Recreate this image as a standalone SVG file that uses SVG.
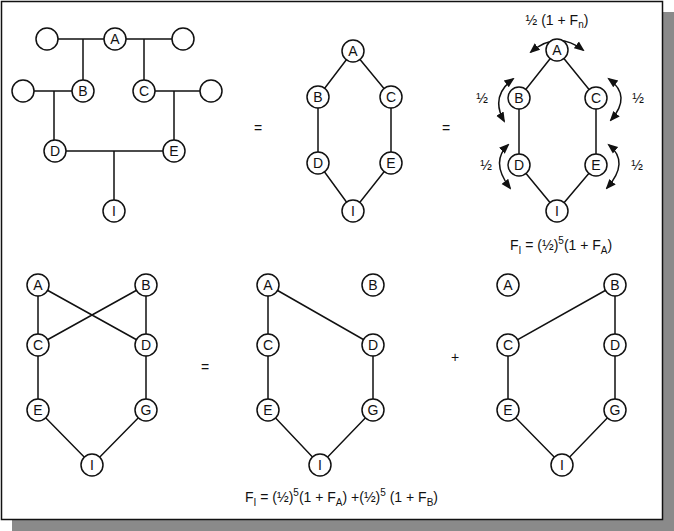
<svg xmlns="http://www.w3.org/2000/svg" width="674" height="531" viewBox="0 0 674 531">
<style>
.n{fill:#fff;stroke:#111;stroke-width:1.5}
.l{stroke:#111;stroke-width:1.5;fill:none}
text{font-family:"Liberation Sans",Arial,sans-serif;font-size:14px;fill:#111}
.c{text-anchor:middle;dominant-baseline:central}
.a{stroke:#111;stroke-width:1.5;fill:none;marker-start:url(#h);marker-end:url(#h)}
</style>
<defs>
<marker id="h" viewBox="0 0 10 10" refX="8" refY="5" markerWidth="7" markerHeight="7" orient="auto-start-reverse"><path d="M0,1 L10,5 L0,9 z" fill="#111"/></marker>
<g id="nd"><circle class="n" r="11"/></g>
</defs>
<rect x="0" y="0" width="674" height="531" fill="#fff"/>
<rect x="12" y="12" width="662" height="519" fill="#8a8a8a"/>
<rect x="1.5" y="1.5" width="661" height="518" fill="#fff" stroke="#111" stroke-width="1.5"/>
<g id="connectors">
<path class="l" d="M58,39H172M83,39V80M144,39V80M34,91H72M54,91V140M155,91H200M174,91V140M66,151H163M114,151V200"/>
<path class="l" d="M353,51L318,97L318,163L353,211L391,163L391,97Z"/>
<path class="l" d="M557,50L519,98L519,165L557,211L596,165L596,98Z"/>
<path class="l" d="M38,285V345V410L92,465L146,410V345V285M38,285L146,345M146,285L38,345"/>
<path class="l" d="M268,285V345V410L320,465L373,410V345L268,285"/>
<path class="l" d="M615,285V345V410L562,465L508,410V345L615,285"/>
<path class="a" d="M531,52Q557,30 583,50"/>
<path class="a" d="M513,79Q490,96 504,121"/>
<path class="a" d="M609,79Q632,96 611,120"/>
<path class="a" d="M508,145Q490,162 510,188"/>
<path class="a" d="M609,145Q630,162 607,188"/>
</g>
<g id="nodes">
<g id="t1"><use href="#nd" x="47" y="39"/><use href="#nd" x="183" y="39"/><use href="#nd" x="23" y="91"/><use href="#nd" x="211" y="91"/>
<use href="#nd" x="115" y="39"/><text class="c" x="115" y="39">A</text>
<use href="#nd" x="83" y="91"/><text class="c" x="83" y="91">B</text>
<use href="#nd" x="144" y="91"/><text class="c" x="144" y="91">C</text>
<use href="#nd" x="55" y="151"/><text class="c" x="55" y="151">D</text>
<use href="#nd" x="174" y="151"/><text class="c" x="174" y="151">E</text>
<use href="#nd" x="114" y="211"/><text class="c" x="114" y="211">I</text></g>
<g id="t2">
<use href="#nd" x="353" y="51"/><text class="c" x="353" y="51">A</text>
<use href="#nd" x="318" y="97"/><text class="c" x="318" y="97">B</text>
<use href="#nd" x="391" y="97"/><text class="c" x="391" y="97">C</text>
<use href="#nd" x="318" y="163"/><text class="c" x="318" y="163">D</text>
<use href="#nd" x="391" y="163"/><text class="c" x="391" y="163">E</text>
<use href="#nd" x="353" y="211"/><text class="c" x="353" y="211">I</text></g>
<g id="t3">
<use href="#nd" x="557" y="50"/><text class="c" x="557" y="50">A</text>
<use href="#nd" x="519" y="98"/><text class="c" x="519" y="98">B</text>
<use href="#nd" x="596" y="98"/><text class="c" x="596" y="98">C</text>
<use href="#nd" x="519" y="165"/><text class="c" x="519" y="165">D</text>
<use href="#nd" x="596" y="165"/><text class="c" x="596" y="165">E</text>
<use href="#nd" x="557" y="211"/><text class="c" x="557" y="211">I</text></g>
<g id="b1">
<use href="#nd" x="38" y="285"/><text class="c" x="38" y="285">A</text>
<use href="#nd" x="146" y="285"/><text class="c" x="146" y="285">B</text>
<use href="#nd" x="38" y="345"/><text class="c" x="38" y="345">C</text>
<use href="#nd" x="146" y="345"/><text class="c" x="146" y="345">D</text>
<use href="#nd" x="38" y="410"/><text class="c" x="38" y="410">E</text>
<use href="#nd" x="146" y="410"/><text class="c" x="146" y="410">G</text>
<use href="#nd" x="92" y="465"/><text class="c" x="92" y="465">I</text></g>
<g id="b2">
<use href="#nd" x="268" y="285"/><text class="c" x="268" y="285">A</text>
<use href="#nd" x="373" y="285"/><text class="c" x="373" y="285">B</text>
<use href="#nd" x="268" y="345"/><text class="c" x="268" y="345">C</text>
<use href="#nd" x="373" y="345"/><text class="c" x="373" y="345">D</text>
<use href="#nd" x="268" y="410"/><text class="c" x="268" y="410">E</text>
<use href="#nd" x="373" y="410"/><text class="c" x="373" y="410">G</text>
<use href="#nd" x="320" y="465"/><text class="c" x="320" y="465">I</text></g>
<g id="b3">
<use href="#nd" x="508" y="285"/><text class="c" x="508" y="285">A</text>
<use href="#nd" x="615" y="285"/><text class="c" x="615" y="285">B</text>
<use href="#nd" x="508" y="345"/><text class="c" x="508" y="345">C</text>
<use href="#nd" x="615" y="345"/><text class="c" x="615" y="345">D</text>
<use href="#nd" x="508" y="410"/><text class="c" x="508" y="410">E</text>
<use href="#nd" x="615" y="410"/><text class="c" x="615" y="410">G</text>
<use href="#nd" x="562" y="465"/><text class="c" x="562" y="465">I</text></g>
</g>
<g id="labels">
<text class="c" x="258" y="128">=</text>
<text class="c" x="446" y="128">=</text>
<text class="c" x="205" y="367">=</text>
<text class="c" x="455" y="357">+</text>
<text class="c" x="557" y="20">½ (1 + F<tspan font-size="10" dy="4">n</tspan><tspan dy="-4">)</tspan></text>
<text class="c" x="482" y="98">½</text>
<text class="c" x="638" y="98">½</text>
<text class="c" x="486" y="165">½</text>
<text class="c" x="637" y="165">½</text>
<text x="510" y="250" font-size="15">F<tspan font-size="10" dy="4">I</tspan><tspan dy="-4"> = (½)</tspan><tspan font-size="10" dy="-6">5</tspan><tspan dy="6">(1 + F</tspan><tspan font-size="10" dy="4">A</tspan><tspan dy="-4">)</tspan></text>
<text x="245" y="502">F<tspan font-size="10" dy="4">I</tspan><tspan dy="-4"> = (½)</tspan><tspan font-size="10" dy="-6">5</tspan><tspan dy="6">(1 + F</tspan><tspan font-size="10" dy="4">A</tspan><tspan dy="-4">) +(½)</tspan><tspan font-size="10" dy="-6">5</tspan><tspan dy="6"> (1 + F</tspan><tspan font-size="10" dy="4">B</tspan><tspan dy="-4">)</tspan></text>
</g>
</svg>
